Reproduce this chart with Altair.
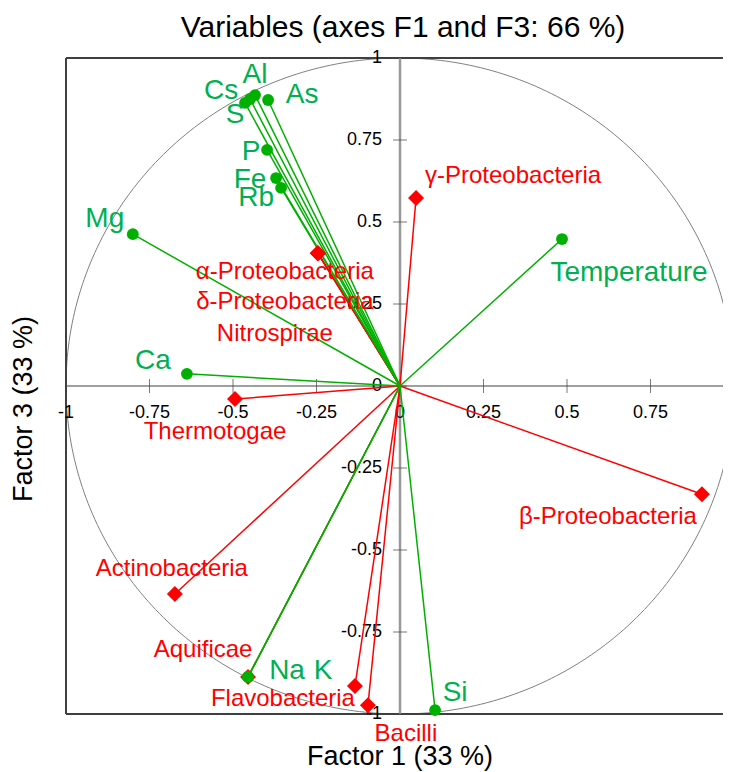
import altair as alt
import pandas as pd
import numpy as np

# ---------------- data ----------------
var_names = ["Temperature", "Mg", "Ca", "Al", "Cs", "S", "As", "P", "Fe", "Rb", "Na", "K", "Si"]
var_f1 = [0.485, -0.800, -0.638, -0.434, -0.449, -0.464, -0.395, -0.398, -0.371, -0.356, -0.455, -0.455, 0.105]
var_f3 = [0.448, 0.463, 0.037, 0.887, 0.875, 0.863, 0.872, 0.720, 0.634, 0.604, -0.887, -0.887, -0.988]

bac_names = ["γ-Proteobacteria", "α-Proteobacteria", "δ-Proteobacteria", "Nitrospirae", "Thermotogae",
             "β-Proteobacteria", "Actinobacteria", "Aquificae", "Flavobacteria", "Bacilli"]
bac_f1 = [0.048, -0.246, -0.246, -0.246, -0.494, 0.904, -0.674, -0.455, -0.135, -0.096]
bac_f3 = [0.573, 0.405, 0.405, 0.405, -0.040, -0.330, -0.634, -0.887, -0.915, -0.973]

x_ticks = [-1, -0.75, -0.5, -0.25, 0, 0.25, 0.5, 0.75]
x_tick_labels = ["-1", "-0.75", "-0.5", "-0.25", "0", "0.25", "0.5", "0.75"]
y_ticks = [1, 0.75, 0.5, 0.25, 0, -0.25, -0.5, -0.75, -1]
y_tick_labels = ["1", "0.75", "0.5", "0.25", "0", "-0.25", "-0.5", "-0.75", "-1"]

title_text = "Variables (axes F1 and F3: 66 %)"
x_title = "Factor 1 (33 %)"
y_title = "Factor 3 (33 %)"

# ---------------- layout (label placement, pixels) ----------------
var_dx = [67, -28, -34, 0, -29, -10, 34, -16, -26, -25, 39, 75, 20]
var_dy = [34, -15, -13, -20, -8, 12, -5, 2, 2, 10, -6, -6, -17]
bac_dx = [97, -33, -33, -43, -20, -94, -3, -45, -72, 38]
bac_dy = [-22, 19, 49, 81, 33, 23, -25, -27, 13, 29]

X_MAX = 0.967          # right part of the frame is cut off by the page edge
W, H = 657, 656
FONT = "Liberation Sans"
GREEN_MK = "#00B000"
GREEN_TX = "#00B050"
RED = "#FF0000"
FRAME = "#404040"

ppx = W / (X_MAX + 1.0)   # pixels per unit along F1
ppy = H / 2.0             # pixels per unit along F3

var_df = pd.DataFrame({"name": var_names, "x": var_f1, "y": var_f3, "x0": 0.0, "y0": 0.0})
var_df["lx"] = var_df["x"] + np.array(var_dx) / ppx
var_df["ly"] = var_df["y"] - np.array(var_dy) / ppy

bac_df = pd.DataFrame({"name": bac_names, "x": bac_f1, "y": bac_f3, "x0": 0.0, "y0": 0.0})
bac_df["lx"] = bac_df["x"] + np.array(bac_dx) / ppx
bac_df["ly"] = bac_df["y"] - np.array(bac_dy) / ppy

theta = np.linspace(0, 2 * np.pi, 361)
circle_df = pd.DataFrame({"i": np.arange(len(theta)), "x": np.cos(theta), "y": np.sin(theta)})

xt_df = pd.DataFrame({"x": x_ticks, "lab": x_tick_labels, "y": 0.0})
yt_df = pd.DataFrame({"y": y_ticks, "lab": y_tick_labels, "x": 0.0})
one_df = pd.DataFrame({"k": [0]})

xs = alt.Scale(domain=[-1, X_MAX], nice=False, zero=False)
ys = alt.Scale(domain=[-1, 1], nice=False, zero=False)


def X(f):
    return alt.X(f, type="quantitative", scale=xs, axis=None)


def Y(f):
    return alt.Y(f, type="quantitative", scale=ys, axis=None)


def DX(v):
    return alt.datum(v, type="quantitative", scale=xs, axis=None)


def DY(v):
    return alt.datum(v, type="quantitative", scale=ys, axis=None)


# frame: top, left and bottom sides (right side lies beyond the page edge)
frame_top = alt.Chart(one_df).mark_rule(color=FRAME, strokeWidth=2).encode(
    x=DX(-1), x2=alt.datum(X_MAX), y=DY(1))
frame_bottom = alt.Chart(one_df).mark_rule(color=FRAME, strokeWidth=2).encode(
    x=DX(-1), x2=alt.datum(X_MAX), y=DY(-1))
frame_left = alt.Chart(one_df).mark_rule(color=FRAME, strokeWidth=2).encode(
    y=DY(-1), y2=alt.datum(1), x=DX(-1))

circle = alt.Chart(circle_df).mark_line(color="#808080", strokeWidth=1).encode(
    x=X("x"), y=Y("y"), order="i:Q")

hline = alt.Chart(one_df).mark_rule(color=FRAME, strokeWidth=1).encode(
    x=DX(-1), x2=alt.datum(X_MAX), y=DY(0))

vline = alt.Chart(one_df).mark_rule(color="#999999", strokeWidth=2.5).encode(
    y=DY(-1), y2=alt.datum(1), x=DX(0))

xticks = alt.Chart(xt_df).mark_tick(orient="vertical", size=14, thickness=1, color=FRAME).encode(
    x=X("x"), y=Y("y"))
yticks = alt.Chart(yt_df).mark_tick(orient="horizontal", size=14, thickness=1, color=FRAME).encode(
    x=X("x"), y=Y("y"))

xlabels = alt.Chart(xt_df).mark_text(font=FONT, fontSize=18, color="black", dy=27,
                                     align="center", baseline="middle").encode(
    x=X("x"), y=Y("y"), text="lab:N")
ylabels = alt.Chart(yt_df).mark_text(font=FONT, fontSize=18, color="black", dx=-18,
                                     align="right", baseline="middle").encode(
    x=X("x"), y=Y("y"), text="lab:N")

bac_lines = alt.Chart(bac_df).mark_rule(color=RED, strokeWidth=1.5).encode(
    x=X("x0"), y=Y("y0"), x2="x", y2="y")
var_lines = alt.Chart(var_df).mark_rule(color=GREEN_MK, strokeWidth=1.5).encode(
    x=X("x0"), y=Y("y0"), x2="x", y2="y")

bac_pts = alt.Chart(bac_df).mark_point(shape="diamond", filled=True, size=256, color=RED, opacity=1).encode(
    x=X("x"), y=Y("y"))
var_pts = alt.Chart(var_df).mark_point(shape="circle", filled=True, size=140, color=GREEN_MK, opacity=1).encode(
    x=X("x"), y=Y("y"))

bac_txt = alt.Chart(bac_df).mark_text(font=FONT, fontSize=24, color=RED, align="center",
                                      baseline="middle").encode(
    x=X("lx"), y=Y("ly"), text="name:N")
var_txt = alt.Chart(var_df).mark_text(font=FONT, fontSize=28, color=GREEN_TX, align="center",
                                      baseline="middle").encode(
    x=X("lx"), y=Y("ly"), text="name:N")

title_mark = alt.Chart(one_df).mark_text(font=FONT, fontSize=30, color="black", align="center",
                                         baseline="alphabetic", dx=3, dy=-21).encode(
    x=DX(0), y=DY(1), text=alt.value(title_text))
xtitle_mark = alt.Chart(one_df).mark_text(font=FONT, fontSize=27, color="black", align="center",
                                          baseline="middle", dy=43).encode(
    x=DX(0), y=DY(-1), text=alt.value(x_title))
ytitle_mark = alt.Chart(one_df).mark_text(font=FONT, fontSize=27, color="black", align="center",
                                          baseline="middle", angle=270, dx=-23, dy=-42).encode(
    x=DX(-1), y=DY(0), text=alt.value(y_title))

chart = alt.layer(
    circle, frame_top, frame_bottom, frame_left, hline, vline, xticks, yticks, xlabels, ylabels,
    bac_lines, var_lines, bac_pts, var_pts, bac_txt, var_txt,
    title_mark, xtitle_mark, ytitle_mark
).properties(
    width=W, height=H,
    autosize=alt.AutoSizeParams(type="none"),
    padding={"left": 58, "top": 50, "right": 0, "bottom": 58},
).configure_view(strokeWidth=0).configure(background="white")

chart.save("out.html", embed_options={"renderer": "svg", "actions": False})
